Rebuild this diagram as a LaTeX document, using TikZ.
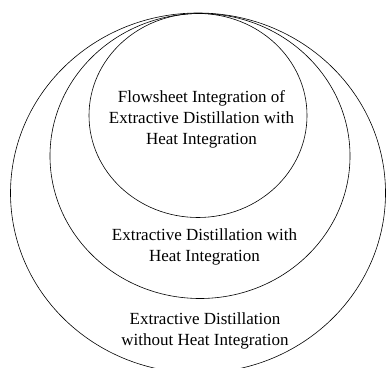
\documentclass[tikz,border=0pt]{standalone}
\usepackage{fontspec}
\setmainfont{Liberation Serif}
\usetikzlibrary{shapes.geometric}
\begin{document}
\begin{tikzpicture}[x=1pt,y=1pt,
  ring/.style={draw=black, line width=0.6pt, ellipse, inner sep=0pt},
  lbl/.style={align=center, font=\fontsize{17}{21}\selectfont, inner sep=0pt}]
\clip (0,0) rectangle (387,367);
\node[ring, minimum width=375pt, minimum height=360pt] (outer) at (198,174) {};
\node[ring, minimum width=300pt, minimum height=285pt] (middle) at (200,211) {};
\node[ring, minimum width=218pt, minimum height=204pt] (inner) at (198,251.5) {};
\node[lbl] (tinner) at (201.5,248) {Flowsheet Integration of\\Extractive Distillation with\\Heat Integration};
\node[lbl] (tmiddle) at (204.5,120) {Extractive Distillation with\\Heat Integration};
\node[lbl] (touter) at (205,36.5) {Extractive Distillation\\without Heat Integration};
\end{tikzpicture}
\end{document}
